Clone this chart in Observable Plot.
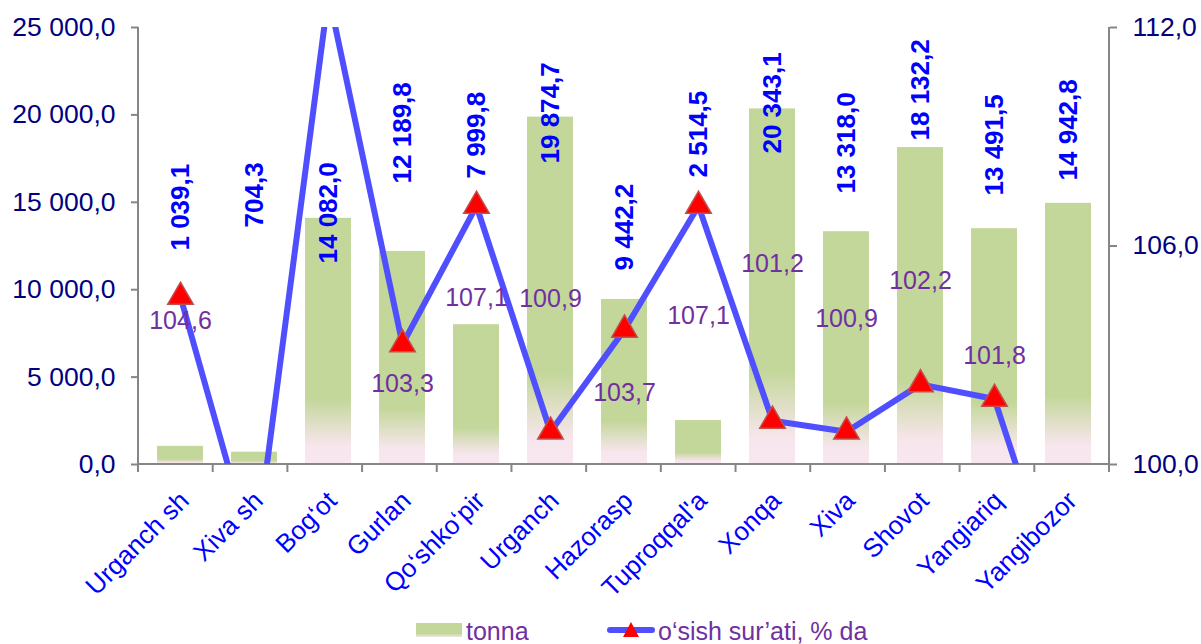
<!DOCTYPE html>
<html>
<head>
<meta charset="utf-8">
<script src="https://cdn.jsdelivr.net/npm/d3@7"></script>
<script src="https://cdn.jsdelivr.net/npm/@observablehq/plot@0.6"></script>
<style>
  body { margin: 0; background: #fff; font-family: "Liberation Sans", Arial, sans-serif; }
  #chart svg { display: block; }
  #legend { position: relative; width: 1201px; height: 44px; color: #7030a0; font-size: 25px; }
  #legend .item { position: absolute; }
  #legend .txt { top: 16px; line-height: 30px; white-space: nowrap; }
  #legend .bar { left: 416px; top: 23px; width: 46px; height: 14px;
    background: linear-gradient(#c4d79b 0%, #c4d79b 75%, #efe6e6 100%); }
  #legend .ln { left: 607px; top: 27px; width: 48px; height: 6px; border-radius: 3px; background: #4f4fff; }
  #legend .tri { left: 623px; top: 22px; width: 16px; height: 15px; background: #ff0000;
    clip-path: polygon(50% 0, 100% 100%, 0 100%); }
</style>
</head>
<body>
<div id="chart"></div>
<div id="legend">
  <div class="item bar"></div>
  <div class="item txt" style="left:466px">tonna</div>
  <div class="item ln"></div>
  <div class="item tri"></div>
  <div class="item txt" style="left:658px">o‘sish sur’ati, % da</div>
</div>
<script>
// ---- data ----
const categories = ["Urganch sh", "Xiva sh", "Bog‘ot", "Gurlan", "Qo‘shko‘pir", "Urganch", "Hazorasp", "Tuproqqal'a", "Xonqa", "Xiva", "Shovot", "Yangiariq", "Yangibozor"];
const tonnes = [1039.1, 704.3, 14082.0, 12189.8, 7999.8, 19874.7, 9442.2, 2514.5, 20343.1, 13318.0, 18132.2, 13491.5, 14942.8];
const growth = [104.6, 97.4, 112.9, 103.3, 107.1, 100.9, 103.7, 107.1, 101.2, 100.9, 102.2, 101.8, 95.6];
const leftTicks = [0, 5000, 10000, 15000, 20000, 25000];
const rightTicks = [100, 106, 112];
const leftDomain = [0, 25000];
const rightDomain = [100, 112];

// ---- label placement (layout, in axis units) ----
const tonneLabelAt = [12240, 13560, 11500, 16080, 16360, 17220, 11100, 16420, 17790, 15500, 18535, 15390, 16250];
const growthLabelAt = [103.94, null, null, 102.2, 104.57, 104.54, 101.95, 104.07, 105.5, 103.99, 105.04, 102.97, null];

const locale = d3.formatLocale({decimal: ",", thousands: " ", grouping: [3], currency: ["", ""]});
const fmt1 = locale.format(",.1f");
// map right-axis (%) values onto the left-axis scale
const toLeft = v => (v - rightDomain[0]) / (rightDomain[1] - rightDomain[0]) * (leftDomain[1] - leftDomain[0]) + leftDomain[0];
const fromLeft = v => (v - leftDomain[0]) / (leftDomain[1] - leftDomain[0]) * (rightDomain[1] - rightDomain[0]) + rightDomain[0];

const rows = categories.map((c, i) => ({c, t: tonnes[i], g: growth[i], tl: tonneLabelAt[i], gl: growthLabelAt[i]}));

const FONT = "Liberation Sans, Arial, sans-serif";
const AXIS_GREY = "#868686";

function gradientDefs() {
  const defs = d3.create("svg:defs");
  const lg = defs.append("linearGradient").attr("id", "barGrad").attr("x1", 0).attr("y1", 0).attr("x2", 0).attr("y2", 1);
  lg.append("stop").attr("offset", "0").attr("stop-color", "#c4d79b");
  lg.append("stop").attr("offset", "0.74").attr("stop-color", "#c4d79b");
  lg.append("stop").attr("offset", "0.93").attr("stop-color", "#f8e6ee");
  lg.append("stop").attr("offset", "1").attr("stop-color", "#f9e7f0");
  return defs.node();
}

function axisLines(index, scales, values, dims) {
  const {width, height, marginLeft, marginRight, marginTop, marginBottom} = dims;
  const x0 = marginLeft, x1 = width - marginRight, y0 = marginTop, y1 = height - marginBottom;
  const g = d3.create("svg:g").attr("stroke", AXIS_GREY).attr("stroke-width", 2).attr("fill", "none");
  g.append("line").attr("x1", x0).attr("x2", x0).attr("y1", y0).attr("y2", y1);
  g.append("line").attr("x1", x1).attr("x2", x1).attr("y1", y0).attr("y2", y1);
  g.append("line").attr("x1", x0 - 1).attr("x2", x1 + 1).attr("y1", y1).attr("y2", y1);
  const n = categories.length, step = (x1 - x0) / n;
  for (let k = 0; k <= n; k++) {
    g.append("line").attr("x1", x0 + k * step).attr("x2", x0 + k * step).attr("y1", y1).attr("y2", y1 + 8);
  }
  return g.node();
}

const chart = Plot.plot({
  width: 1201,
  height: 600,
  marginLeft: 138,
  marginRight: 92,
  marginTop: 27,
  marginBottom: 136,
  style: {fontFamily: FONT, background: "#fff", overflow: "visible"},
  x: {domain: categories, paddingInner: 0.385, paddingOuter: 0.1925, label: null},
  y: {domain: leftDomain, label: null},
  marks: [
    gradientDefs,
    Plot.barY(rows, {x: "c", y: "t", fill: "url(#barGrad)"}),
    axisLines,
    Plot.axisY({ticks: leftTicks, tickFormat: fmt1, tickSize: 7, tickPadding: 16, fontSize: 26.5,
      stroke: AXIS_GREY, strokeWidth: 2, fill: "#000080", label: null}),
    Plot.axisY({anchor: "right", ticks: rightTicks.map(toLeft), tickFormat: v => fmt1(fromLeft(v)),
      tickSize: 7, tickPadding: 16, fontSize: 26.5, stroke: AXIS_GREY, strokeWidth: 2, fill: "#000080", label: null}),
    Plot.axisX({tickRotate: -45, tickSize: 0, tickPadding: 32, dx: 4, fontSize: 26, fill: "#0000ff", label: null}),
    Plot.line(rows, {x: "c", y: d => toLeft(d.g), stroke: "#4f4fff", strokeWidth: 6, clip: true}),
    Plot.dot(rows, {x: "c", y: d => toLeft(d.g), symbol: "triangle", r: 9.5, fill: "#ff0000",
      stroke: "#c0504d", strokeWidth: 1.5, clip: true}),
    Plot.text(rows, {x: "c", y: "tl", text: d => fmt1(d.t), rotate: -90, textAnchor: "start",
      fontSize: 26, fontWeight: "bold", fill: "#0000ff"}),
    Plot.text(rows.filter(d => d.gl != null), {x: "c", y: d => toLeft(d.gl), text: d => fmt1(d.g),
      fontSize: 25, fill: "#7030a0"})
  ]
});
document.getElementById("chart").appendChild(chart);
</script>
</body>
</html>
